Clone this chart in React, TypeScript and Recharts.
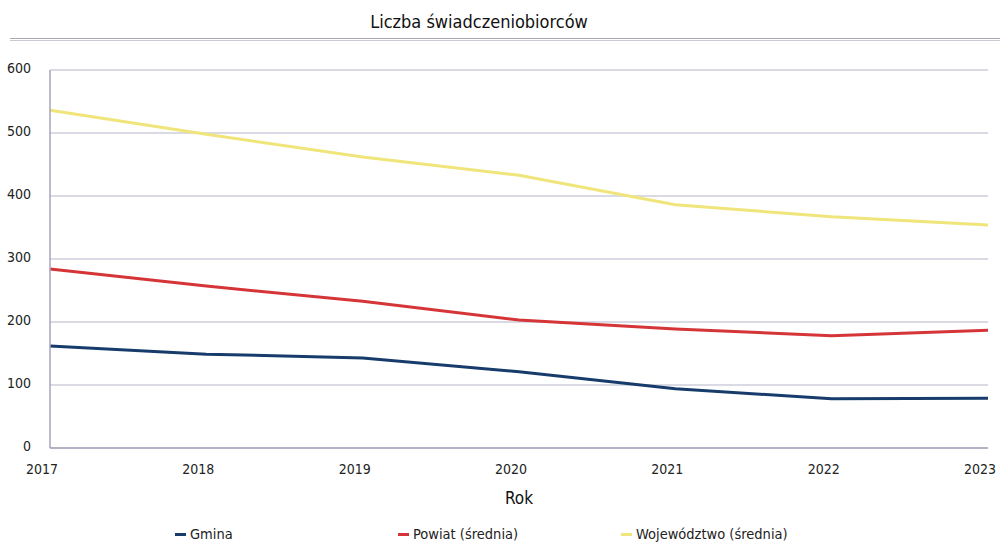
import React from "react";
import { CartesianGrid, Line, LineChart, XAxis, YAxis } from "recharts";

const years = ["2017", "2018", "2019", "2020", "2021", "2022", "2023"];
const gmina = [162, 149, 143, 121, 94, 78, 79];
const powiat = [284, 257, 233, 203, 189, 178, 187];
const wojewodztwo = [536, 498, 462, 433, 386, 367, 354];
const yTicks = [0, 100, 200, 300, 400, 500, 600];

const series = [
  { key: "gmina", name: "Gmina", color: "#173c6b" },
  { key: "powiat", name: "Powiat (średnia)", color: "#d63538" },
  { key: "wojewodztwo", name: "Województwo (średnia)", color: "#efe57a" },
];

const data = years.map((year, i) => ({
  year,
  gmina: gmina[i],
  powiat: powiat[i],
  wojewodztwo: wojewodztwo[i],
}));

const font = "'DejaVu Sans Condensed', 'DejaVu Sans', sans-serif";

function LegendRow() {
  return (
    <div
      style={{
        position: "absolute",
        left: 175,
        top: 526,
        display: "flex",
        fontFamily: font,
        fontSize: 14.5,
        color: "#222",
      }}
    >
      {series.map((s) => (
        <div key={s.key} style={{ width: 223, display: "flex", alignItems: "center" }}>
          <span
            style={{
              display: "inline-block",
              width: 11,
              height: 3,
              background: s.color,
              marginRight: 4,
            }}
          />
          {s.name}
        </div>
      ))}
    </div>
  );
}

export default function App() {
  return (
    <div
      style={{
        position: "absolute",
        left: 0,
        top: 0,
        width: 1000,
        height: 545,
        background: "#fff",
        fontFamily: font,
      }}
    >
      <div
        style={{
          position: "absolute",
          top: 11,
          left: 0,
          width: 958,
          textAlign: "center",
          fontSize: 18,
          color: "#111",
        }}
      >
        Liczba świadczeniobiorców
      </div>
      <div
        style={{
          position: "absolute",
          top: 38,
          left: 10,
          width: 990,
          height: 1,
          borderTop: "1px solid #a9aab8",
          borderBottom: "1px solid #c9cad6",
        }}
      />
      <LineChart
        width={1000}
        height={545}
        data={data}
        margin={{ top: 70, right: 12, bottom: 67, left: 0 }}
      >
        <CartesianGrid vertical={false} stroke="#b6b6cc" strokeWidth={1.2} />
        <XAxis
          dataKey="year"
          padding={{ left: 0, right: 0 }}
          axisLine={{ stroke: "#a4a4bc", strokeWidth: 1.5 }}
          tickLine={false}
          tick={{ fontSize: 14, fill: "#222", fontFamily: font, dx: -8 }}
          tickMargin={10}
          height={30}
          interval={0}
          label={{
            value: "Rok",
            position: "insideBottom",
            offset: -26,
            fontSize: 17,
            fill: "#111",
            fontFamily: font,
          }}
        />
        <YAxis
          domain={[0, 600]}
          ticks={yTicks}
          width={50}
          axisLine={{ stroke: "#a4a4bc", strokeWidth: 1.5 }}
          tickLine={false}
          tickMargin={13}
          tick={{ fontSize: 14, fill: "#222", fontFamily: font, dy: -2 }}
        />
        {series.map((s) => (
          <Line
            key={s.key}
            type="linear"
            dataKey={s.key}
            name={s.name}
            stroke={s.color}
            strokeWidth={3}
            dot={false}
            isAnimationActive={false}
          />
        ))}
      </LineChart>
      <LegendRow />
    </div>
  );
}
